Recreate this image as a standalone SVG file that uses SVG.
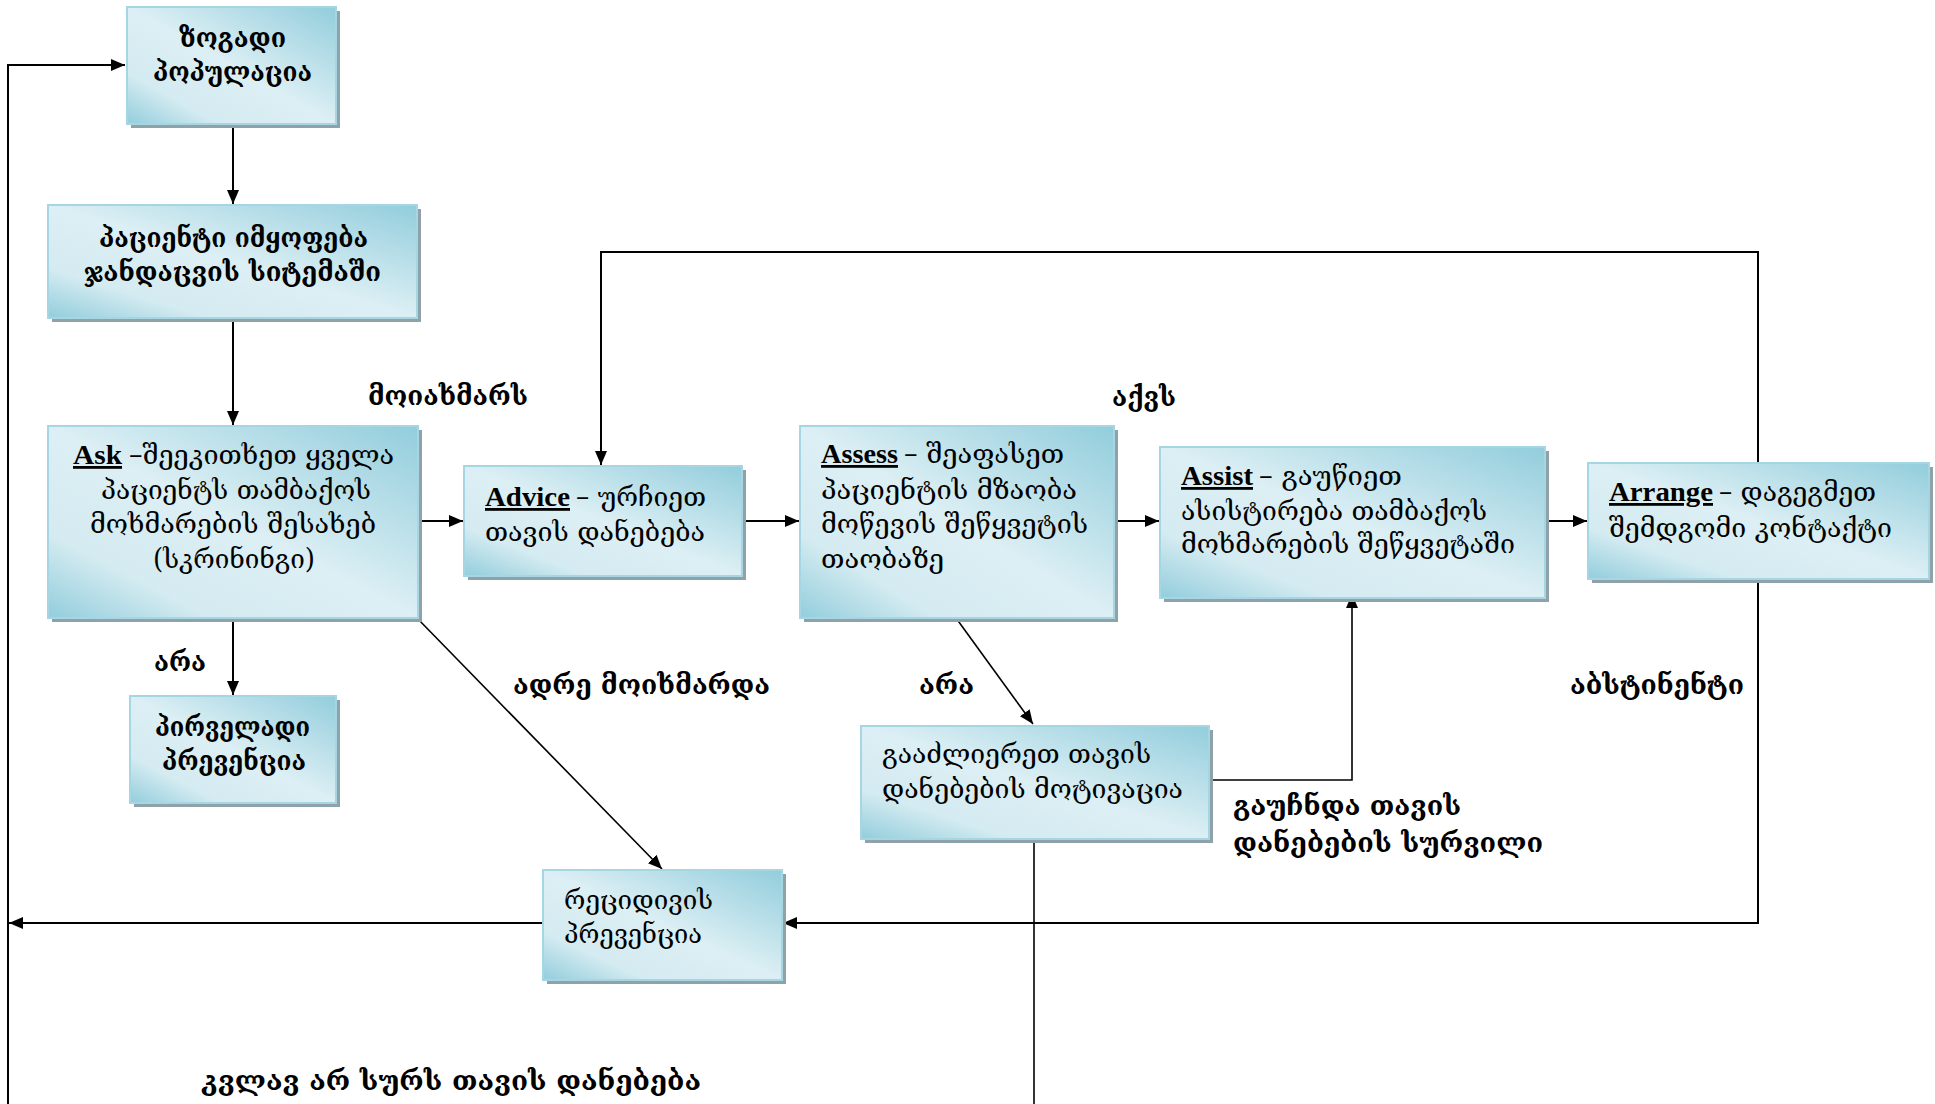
<svg xmlns="http://www.w3.org/2000/svg" width="1935" height="1104" viewBox="0 0 1935 1104">
<defs>
<linearGradient id="g" x1="1" y1="0" x2="0" y2="1">
<stop offset="0" stop-color="#92CDDC"/>
<stop offset="0.5" stop-color="#DCEFF4"/>
<stop offset="0.78" stop-color="#D4EBF1"/>
<stop offset="1" stop-color="#92CDDC"/>
</linearGradient>
<marker id="ah" viewBox="0 0 14 12" refX="14" refY="6" markerWidth="14" markerHeight="12" markerUnits="userSpaceOnUse" orient="auto">
<path d="M0,0 L14,6 L0,12 z" fill="#000"/>
</marker>
</defs>
<style>
.sh{fill:#8FA2AA}
.bx{fill:url(#g);stroke:#A6D6E3;stroke-width:2}
.t{font-family:"DejaVu Serif","Liberation Serif",serif;font-size:27px;fill:#000}
.b{font-weight:bold}
.en{font-family:"Liberation Serif",serif;font-weight:bold;font-size:28px;text-decoration:underline}
.c{fill:none;stroke:#000;stroke-width:2}
.c1{fill:none;stroke:#000;stroke-width:1.6}
</style>
<rect width="1935" height="1104" fill="#fff"/>

<g id="connectors">
<path class="c" d="M8,1104 V65 H125" marker-end="url(#ah)"/>
<path class="c" d="M233,125 V204" marker-end="url(#ah)"/>
<path class="c" d="M233,318 V425" marker-end="url(#ah)"/>
<path class="c" d="M233,618 V695" marker-end="url(#ah)"/>
<path class="c" d="M418,521 H463" marker-end="url(#ah)"/>
<path class="c" d="M1758,462 V252 H601 V465" marker-end="url(#ah)"/>
<path class="c" d="M742,521 H799" marker-end="url(#ah)"/>
<path class="c" d="M1114,521 H1159" marker-end="url(#ah)"/>
<path class="c" d="M1545,521 H1587" marker-end="url(#ah)"/>
<path class="c1" d="M956,618 L1033,724" marker-end="url(#ah)"/>
<path class="c1" d="M1209,780 H1352 V594" marker-end="url(#ah)"/>
<path class="c1" d="M1034,839 V1104"/>
<path class="c" d="M1758,579 V923 H783" marker-end="url(#ah)"/>
<path class="c" d="M543,923 H9" marker-end="url(#ah)"/>
<path class="c1" d="M416,617 L662,869" marker-end="url(#ah)"/>
</g>

<g id="n-population">
<rect class="sh" x="131" y="11" width="209" height="117"/>
<rect class="bx" x="127" y="7" width="209" height="117"/>
<text class="t b" x="179" y="47" textLength="107" lengthAdjust="spacingAndGlyphs">ზოგადი</text>
<text class="t b" x="153" y="81" textLength="159" lengthAdjust="spacingAndGlyphs">პოპულაცია</text>
</g>

<g id="n-system">
<rect class="sh" x="52" y="209" width="369" height="113"/>
<rect class="bx" x="48" y="205" width="369" height="113"/>
<text class="t b" x="99" y="247" textLength="269" lengthAdjust="spacingAndGlyphs">პაციენტი იმყოფება</text>
<text class="t b" x="84" y="281" textLength="297" lengthAdjust="spacingAndGlyphs">ჯანდაცვის სიტემაში</text>
</g>

<g id="n-ask">
<rect class="sh" x="52" y="430" width="370" height="192"/>
<rect class="bx" x="48" y="426" width="370" height="192"/>
<text class="en" x="73" y="464" textLength="49" lengthAdjust="spacingAndGlyphs">Ask </text>
<text class="t" x="129" y="464" textLength="265" lengthAdjust="spacingAndGlyphs">–შეეკითხეთ ყველა</text>
<text class="t" x="101" y="499" textLength="270" lengthAdjust="spacingAndGlyphs">პაციენტს თამბაქოს</text>
<text class="t" x="90" y="533" textLength="286" lengthAdjust="spacingAndGlyphs">მოხმარების შესახებ</text>
<text class="t" x="153" y="568" textLength="162" lengthAdjust="spacingAndGlyphs">(სკრინინგი)</text>
</g>

<g id="n-advice">
<rect class="sh" x="468" y="470" width="278" height="110"/>
<rect class="bx" x="464" y="466" width="278" height="110"/>
<text class="en" x="485" y="506" textLength="85" lengthAdjust="spacingAndGlyphs">Advice</text>
<text class="t" x="576" y="506" textLength="130" lengthAdjust="spacingAndGlyphs">– ურჩიეთ</text>
<text class="t" x="485" y="541" textLength="220" lengthAdjust="spacingAndGlyphs">თავის დანებება</text>
</g>

<g id="n-assess">
<rect class="sh" x="804" y="430" width="314" height="192"/>
<rect class="bx" x="800" y="426" width="314" height="192"/>
<text class="en" x="821" y="463" textLength="77" lengthAdjust="spacingAndGlyphs">Assess</text>
<text class="t" x="904" y="463" textLength="160" lengthAdjust="spacingAndGlyphs">– შეაფასეთ</text>
<text class="t" x="821" y="499" textLength="256" lengthAdjust="spacingAndGlyphs">პაციენტის მზაობა</text>
<text class="t" x="821" y="533" textLength="267" lengthAdjust="spacingAndGlyphs">მოწევის შეწყვეტის</text>
<text class="t" x="821" y="568" textLength="123" lengthAdjust="spacingAndGlyphs">თაობაზე</text>
</g>

<g id="n-assist">
<rect class="sh" x="1164" y="451" width="385" height="151"/>
<rect class="bx" x="1160" y="447" width="385" height="151"/>
<text class="en" x="1181" y="485" textLength="72" lengthAdjust="spacingAndGlyphs">Assist</text>
<text class="t" x="1259" y="485" textLength="143" lengthAdjust="spacingAndGlyphs">– გაუწიეთ</text>
<text class="t" x="1181" y="520" textLength="306" lengthAdjust="spacingAndGlyphs">ასისტირება თამბაქოს</text>
<text class="t" x="1181" y="553" textLength="334" lengthAdjust="spacingAndGlyphs">მოხმარების შეწყვეტაში</text>
</g>

<g id="n-arrange">
<rect class="sh" x="1592" y="467" width="341" height="116"/>
<rect class="bx" x="1588" y="463" width="341" height="116"/>
<text class="en" x="1609" y="501" textLength="104" lengthAdjust="spacingAndGlyphs">Arrange</text>
<text class="t" x="1719" y="501" textLength="157" lengthAdjust="spacingAndGlyphs">– დაგეგმეთ</text>
<text class="t" x="1609" y="537" textLength="283" lengthAdjust="spacingAndGlyphs">შემდგომი კონტაქტი</text>
</g>

<g id="n-primary">
<rect class="sh" x="134" y="700" width="206" height="107"/>
<rect class="bx" x="130" y="696" width="206" height="107"/>
<text class="t b" x="155" y="736" textLength="155" lengthAdjust="spacingAndGlyphs">პირველადი</text>
<text class="t b" x="162" y="770" textLength="144" lengthAdjust="spacingAndGlyphs">პრევენცია</text>
</g>

<g id="n-motivation">
<rect class="sh" x="865" y="730" width="348" height="113"/>
<rect class="bx" x="861" y="726" width="348" height="113"/>
<text class="t" x="882" y="763" textLength="269" lengthAdjust="spacingAndGlyphs">გააძლიერეთ თავის</text>
<text class="t" x="882" y="798" textLength="301" lengthAdjust="spacingAndGlyphs">დანებების მოტივაცია</text>
</g>

<g id="n-relapse">
<rect class="sh" x="547" y="874" width="239" height="110"/>
<rect class="bx" x="543" y="870" width="239" height="110"/>
<text class="t" x="564" y="909" textLength="149" lengthAdjust="spacingAndGlyphs">რეციდივის</text>
<text class="t" x="564" y="943" textLength="138" lengthAdjust="spacingAndGlyphs">პრევენცია</text>
</g>

<g id="labels">
<text class="t b" x="368" y="405" textLength="160" lengthAdjust="spacingAndGlyphs">მოიახმარს</text>
<text class="t b" x="1112" y="406" textLength="64" lengthAdjust="spacingAndGlyphs">აქვს</text>
<text class="t b" x="154" y="671" textLength="52" lengthAdjust="spacingAndGlyphs">არა</text>
<text class="t b" x="513" y="694" textLength="257" lengthAdjust="spacingAndGlyphs">ადრე მოიხმარდა</text>
<text class="t b" x="919" y="694" textLength="55" lengthAdjust="spacingAndGlyphs">არა</text>
<text class="t b" x="1570" y="694" textLength="174" lengthAdjust="spacingAndGlyphs">აბსტინენტი</text>
<text class="t b" x="1233" y="815" textLength="228" lengthAdjust="spacingAndGlyphs">გაუჩნდა თავის</text>
<text class="t b" x="1233" y="852" textLength="310" lengthAdjust="spacingAndGlyphs">დანებების სურვილი</text>
<text class="t b" x="201" y="1090" textLength="500" lengthAdjust="spacingAndGlyphs">კვლავ არ სურს თავის დანებება</text>
</g>
</svg>
